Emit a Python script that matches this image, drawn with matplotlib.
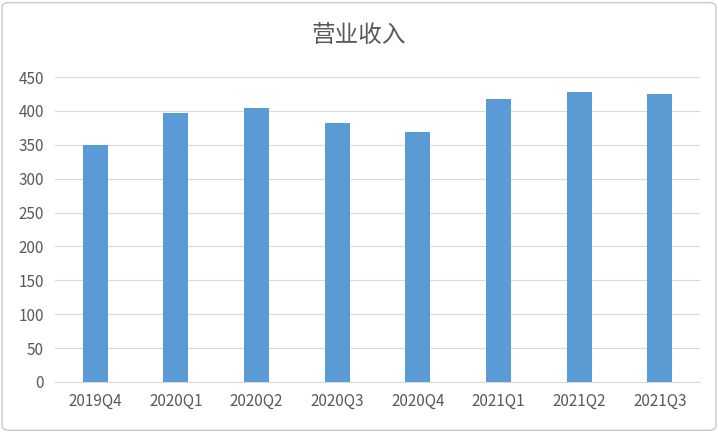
import matplotlib
matplotlib.use("Agg")
import matplotlib.pyplot as plt
from matplotlib.patches import FancyBboxPatch

plt.rcParams['font.family'] = ['Noto Sans CJK SC', 'DejaVu Sans']

categories = ["2019Q4", "2020Q1", "2020Q2", "2020Q3", "2020Q4", "2021Q1", "2021Q2", "2021Q3"]
values = [350, 397, 404, 382, 369, 417, 428, 425]
title = "营业收入"

fig = plt.figure(figsize=(7.18, 4.32), dpi=100)
fig.patches.append(FancyBboxPatch((0.003, 0.004), 0.994, 0.99, boxstyle="round,pad=0,rounding_size=0.01",
                                  transform=fig.transFigure, fill=False, edgecolor="#c8c8c8", lw=1))
ax = fig.add_axes([55/718, 1-382/432, 645/718, 305/432])
ax.bar(range(len(categories)), values, width=0.31, color="#5b9bd5", zorder=3)
ax.set_ylim(0, 450)
ax.set_xlim(-0.5, len(categories)-0.5)
ax.set_yticks(range(0, 451, 50))
ax.set_xticks(range(len(categories)))
ax.set_xticklabels(categories)
ax.grid(axis='y', color="#d9d9d9", lw=0.8, zorder=0)
for s in ['top', 'right', 'left']:
    ax.spines[s].set_visible(False)
ax.spines['bottom'].set_color("#d9d9d9")
ax.tick_params(length=0, labelsize=11, colors="#595959", pad=8)
fig.text(0.5, 1-35/432, title, ha='center', va='center', fontsize=17, color="#595959")
fig.savefig("out.png", dpi=100)
